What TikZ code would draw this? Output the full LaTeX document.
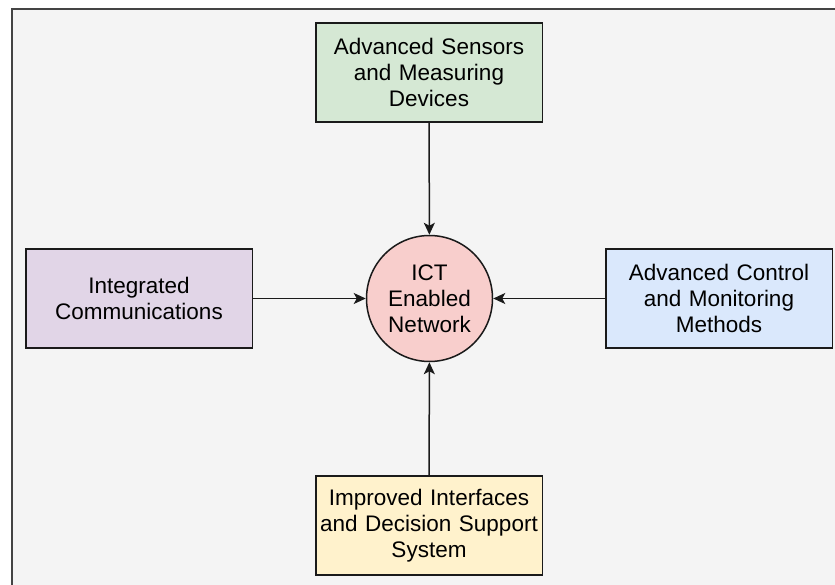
\documentclass[tikz,border=0pt]{standalone}
\usepackage{fontspec}
\setmainfont{Liberation Sans}
\usetikzlibrary{arrows.meta}
\definecolor{bgfill}{HTML}{F4F4F4}
\definecolor{framecol}{HTML}{444444}
\definecolor{greenfill}{HTML}{D5E8D4}
\definecolor{purplefill}{HTML}{E1D5E7}
\definecolor{bluefill}{HTML}{DAE8FC}
\definecolor{yellowfill}{HTML}{FFF2CC}
\definecolor{redfill}{HTML}{F8CECC}
\definecolor{inkcol}{HTML}{1A1A1A}
\tikzset{
  box/.style={draw=inkcol, line width=1.5pt, minimum width=226.5pt, minimum height=99pt,
    inner sep=0pt, align=center, text width=220pt,
    font=\fontsize{22.5}{26}\selectfont},
  hub/.style={circle, draw=inkcol, line width=1.5pt, fill=redfill, minimum size=126pt,
    inner sep=0pt, align=center, font=\fontsize{22.5}{26}\selectfont},
  link/.style={draw=inkcol, line width=1.5pt,
    -{Stealth[length=12pt, width=11pt, inset=3pt]}}
}
\begin{document}
\begin{tikzpicture}[x=1pt, y=-1pt]
  \useasboundingbox (0,0) rectangle (835,585);
  \clip (0,0) rectangle (835,585);
  % page frame
  \draw[fill=bgfill, draw=framecol, line width=2.2pt] (11.8,8.8) rectangle (860,610);

  \node[hub] (ict) at (429.5,298.5) {ICT\\Enabled\\Network};

  \node[box, fill=greenfill] (sens) at (429,72.5) {Advanced Sensors\\and Measuring\\Devices};
  \node[box, fill=purplefill] (comm) at (139,298.5) {Integrated\\Communications};
  \node[box, fill=bluefill] (ctrl) at (719,298.5) {Advanced Control\\and Monitoring\\Methods};
  \node[box, fill=yellowfill] (intf) at (429,525.5) {Improved Interfaces\\and Decision Support\\System};

  \draw[link] (sens) -- (ict);
  \draw[link] (comm) -- (ict);
  \draw[link] (ctrl) -- (ict);
  \draw[link] (intf) -- (ict);
\end{tikzpicture}
\end{document}
